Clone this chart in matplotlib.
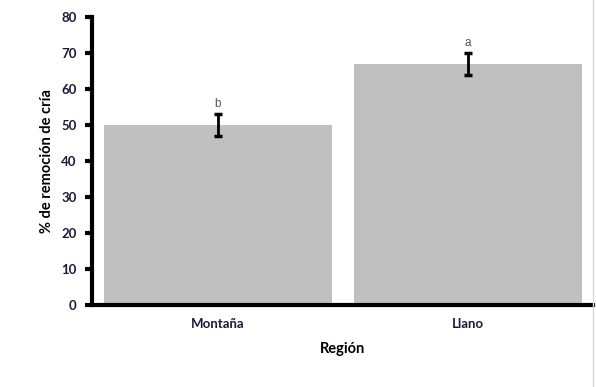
import matplotlib
matplotlib.use("Agg")
import matplotlib.pyplot as plt
from matplotlib.lines import Line2D

categories = ["Montaña", "Llano"]
values = [50, 67]
errors = [3, 3]
letters = ["b", "a"]
yticks = [0, 10, 20, 30, 40, 50, 60, 70, 80]

plt.rcParams['font.family'] = ['Lato', 'DejaVu Sans']

fig = plt.figure(figsize=(5.96, 3.87), dpi=100)
ax = fig.add_axes([92/596, 82/387, 501/596, 288/387])

x = list(range(len(categories)))
ax.bar(x, values, width=0.912, color="#c0c0c0", edgecolor="none", zorder=1)
ax.errorbar(x, values, yerr=errors, fmt="none", ecolor="black", elinewidth=2,
            capsize=3, capthick=2.5, zorder=3)
for xi, v, e, l in zip(x, values, errors, letters):
    ax.text(xi, v + e + 1.2, l, ha="center", va="bottom", fontsize=8.5,
            color="#555555", family=["Liberation Sans", "DejaVu Sans"])

ax.set_xlim(-0.504, 1.5)
ax.set_ylim(0, 80)
ax.set_yticks(yticks)
ax.set_xticks(x)
ax.set_xticklabels(categories)
for s in ["top", "right"]:
    ax.spines[s].set_visible(False)
for s in ["left", "bottom"]:
    ax.spines[s].set_linewidth(3)
ax.tick_params(axis="y", direction="out", length=5, width=3, labelsize=9.5,
               labelcolor="#1a1a3a", pad=6)
ax.tick_params(axis="x", length=0, labelsize=9.5, labelcolor="#1a1a3a", pad=9)
for lab in ax.get_yticklabels() + ax.get_xticklabels():
    lab.set_fontweight("bold")
ax.set_ylabel("% de remoción de cría", fontsize=10.5, fontweight="bold", labelpad=5)
ax.set_xlabel("Región", fontsize=10.5, fontweight="bold", labelpad=9)

fig.add_artist(Line2D([593/596, 593/596], [0, 1], color="#d8d8d8", lw=1,
                      transform=fig.transFigure))

fig.savefig("out.png", dpi=100)
